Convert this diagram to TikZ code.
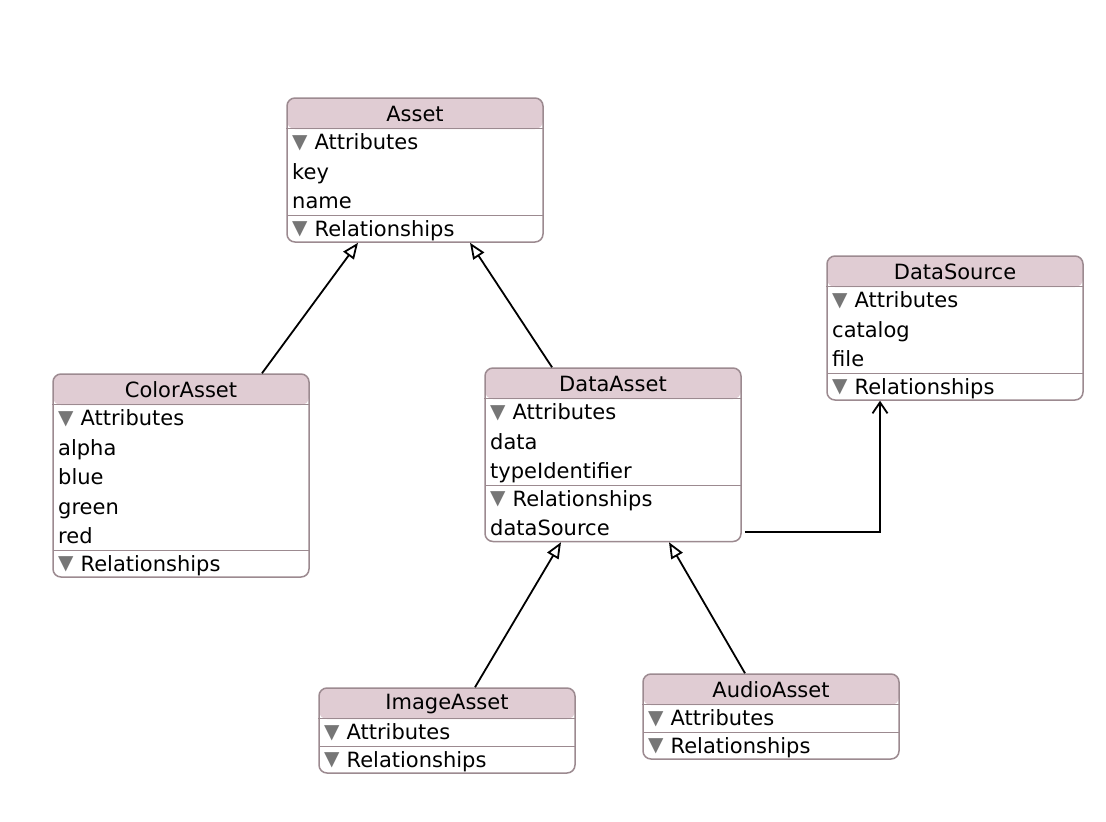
\documentclass[tikz,border=0pt]{standalone}
\usepackage{fontspec}
\setmainfont{DejaVu Sans}
\usetikzlibrary{arrows.meta}

\definecolor{hdrfill}{RGB}{224,204,211}
\definecolor{boxline}{RGB}{156,138,144}
\definecolor{trigrey}{RGB}{118,118,118}

\tikzset{
  entity/.style={draw=boxline, line width=1.5pt, rounded corners=8pt, fill=white,
    minimum width=256pt, inner sep=0pt,
    path picture={\fill[hdrfill] (path picture bounding box.north west)
      rectangle ([yshift=-31pt]path picture bounding box.north east);}},
  border/.style={draw=boxline, line width=1.5pt},
  ttl/.style={inner sep=0pt, font=\fontsize{21pt}{25pt}\selectfont},
  row/.style={anchor=base west, inner sep=0pt, font=\fontsize{21pt}{25pt}\selectfont},
  inherit/.style={line width=1.8pt, -{Triangle[open, length=16pt, width=13pt]}},
  relship/.style={line width=1.8pt, -{Straight Barb[length=11pt, width=15pt]}}
}

\newcommand{\tri}{\raisebox{1.5pt}{\color{trigrey}\fontsize{20pt}{20pt}\selectfont ▼}\hspace{7pt}}

% id, left, top, title, #attributes, attributes, #relationships, relationships
\newcommand{\umlentity}[8]{%
  \pgfmathsetmacro{\entH}{85+29.5*(#5+#7)}
  \pgfmathsetmacro{\sepY}{#3+58.5+29.5*#5}
  \node[entity, minimum height=\entH pt] (#1) at (#2+128, #3+\entH/2) {};
  \draw[border] ([yshift=-31pt]#1.north west) -- ([yshift=-31pt]#1.north east);
  \node[ttl] (#1-t) at (#2+128, #3+16) {#4};
  \node[row] (#1-a) at (#2+5, #3+51.5) {\tri Attributes};
  \ifnum#5>0
    \foreach \txt [count=\i] in {#6}
      \node[row] (#1-a\i) at (#2+5, #3+51.5+29.5*\i) {\txt};
  \fi
  \draw[border] (#2, \sepY) -- (#2+256, \sepY);
  \node[row] (#1-r) at (#2+5, \sepY+20.5) {\tri Relationships};
  \ifnum#7>0
    \foreach \txt [count=\i] in {#8}
      \node[row] (#1-r\i) at (#2+5, \sepY+20.5+29.5*\i) {\txt};
  \fi
}

\begin{document}
\begin{tikzpicture}[x=1pt, y=-1pt]
  \useasboundingbox (0,0) rectangle (1106,822);

  \umlentity{asset}{287}{98}{Asset}{2}{key,name}{0}{}
  \umlentity{colorasset}{53}{374}{ColorAsset}{4}{alpha,blue,green,red}{0}{}
  \umlentity{dataasset}{485}{368}{DataAsset}{2}{data,typeIdentifier}{1}{dataSource}
  \umlentity{datasource}{827}{256}{DataSource}{2}{catalog,file}{0}{}
  \umlentity{imageasset}{319}{688}{ImageAsset}{0}{}{0}{}
  \umlentity{audioasset}{643}{674}{AudioAsset}{0}{}{0}{}

  % parent entities
  \foreach \from/\fx/\to/\tx in {colorasset/81pt/asset/-57pt, dataasset/-61pt/asset/55pt,
      imageasset/28pt/dataasset/-52pt, audioasset/-26pt/dataasset/56pt}
    \draw[inherit] ([xshift=\fx]\from.north) -- ([xshift=\tx]\to.south);

  % dataSource relationship
  \coordinate (ds-out) at ([shift={(3pt,10.5pt)}]dataasset.south east);
  \draw[relship] (ds-out) -| ([xshift=-75pt]datasource.south);
\end{tikzpicture}
\end{document}
